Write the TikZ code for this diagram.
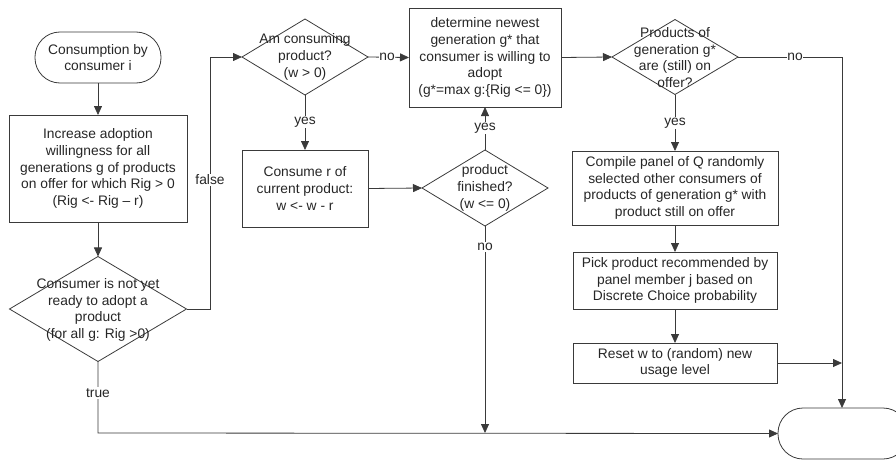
\documentclass[tikz,border=0pt]{standalone}
\usepackage{fontspec}
\setmainfont{Liberation Sans}
\usetikzlibrary{shapes.geometric,arrows.meta}
\definecolor{ln}{HTML}{3A3A3A}
\tikzset{
  every node/.style={font=\fontsize{13.8}{16.6}\selectfont, text=black!85},
  box/.style={draw=ln, line width=0.8pt, rectangle, inner sep=0pt, outer sep=0pt, align=center},
  term/.style={draw=ln, line width=0.8pt, rectangle, rounded corners=25pt, inner sep=0pt, outer sep=0pt, align=center},
  dia/.style={draw=ln, line width=0.8pt, diamond, inner sep=0pt, outer sep=0pt},
  dtext/.style={align=center, inner sep=0pt},
  conn/.style={draw=ln, line width=0.8pt},
  arr/.style={conn, -{Triangle[length=9pt,width=8pt]}},
  lbl/.style={fill=white, inner sep=1pt}
}
\begin{document}
\begin{tikzpicture}[x=1pt,y=-1pt]
\useasboundingbox (0,0) rectangle (896,460);

% nodes
\node[term, minimum width=126pt, minimum height=51pt] (start) at (98,57.5) {Consumption by\\consumer i};
\node[box, minimum width=178pt, minimum height=107pt] (b1) at (98,168.5) {Increase adoption\\willingness for all\\generations g of products\\on offer for which Rig > 0\\(Rig <- Rig – r)};
\node[dia, minimum width=177pt, minimum height=105pt] (d1) at (98,309) {};
\node[dtext] (d1t) at (98,310) {Consumer is not yet\\ready to adopt a\\product\\(for all g: Rig >0)};

\node[dia, minimum width=126pt, minimum height=76pt] (d2) at (305,57) {};
\node[dtext] (d2t) at (305,57) {Am consuming\\product?\\(w > 0)};
\node[box, minimum width=126pt, minimum height=77pt] (b2) at (305,188.5) {Consume r of\\current product:\\w <- w - r};

\node[box, minimum width=152pt, minimum height=99pt] (b3) at (485,57.5) {determine newest\\generation g* that\\consumer is willing to\\adopt\\(g*=max g:\{Rig <= 0\})};
\node[dia, minimum width=126pt, minimum height=76pt] (d3) at (485,188) {};
\node[dtext] (d3t) at (485,188) {product\\finished?\\(w <= 0)};

\node[dia, minimum width=126pt, minimum height=75pt] (d4) at (675,57) {};
\node[dtext] (d4t) at (675,57.5) {Products of\\generation g*\\are (still) on\\offer?};
\node[box, minimum width=206pt, minimum height=74pt] (b4) at (675,188) {Compile panel of Q randomly\\selected other consumers of\\products of generation g* with\\product still on offer};
\node[box, minimum width=204pt, minimum height=57pt] (b5) at (675,280.5) {Pick product recommended by\\panel member j based on\\Discrete Choice probability};
\node[box, minimum width=204pt, minimum height=40pt] (b6) at (675,363) {Reset w to (random) new\\usage level};

\node[term, minimum width=130pt, minimum height=51pt] (end) at (843,433.5) {};

\coordinate (fx1) at (210,309);
\coordinate (fx2) at (210,57);
\coordinate (tc) at (98,433);
\coordinate (nd3) at (485,433);
\coordinate (nx) at (842,57);
\coordinate (r6) at (842,363);

% connectors
\draw[arr] (start) -- (b1);
\draw[arr] (b1) -- (d1);
\draw[arr] (d1.east) -- (fx1) -- (fx2) -- (d2.west);
\node[lbl] (lfalse) at (210,180) {false};
\draw[arr] (d1.south) -- (tc) -- (end.west);
\node[lbl] (ltrue) at (98,393) {true};
\draw[arr] (d2.east) -- (b3.west);
\node[lbl, inner sep=0.5pt] (lno1) at (387,57) {no};
\draw[arr] (d2.south) -- (b2.north);
\node[lbl] (lyes1) at (305,122) {yes};
\draw[arr] (b2.east) -- (d3.west);
\draw[arr] (d3.north) -- (b3.south);
\node[lbl] (lyes2) at (485,128) {yes};
\draw[arr] (d3.south) -- (nd3);
\node[lbl] (lno2) at (485,247) {no};
\draw[arr] (b3.east) -- (d4.west);
\draw[arr] (d4.east) -- (nx) -- (end.north -| nx);
\node[lbl, inner sep=0.5pt] (lno3) at (795,57) {no};
\draw[arr] (d4.south) -- (b4.north);
\node[lbl] (lyes3) at (675,123) {yes};
\draw[arr] (b4) -- (b5);
\draw[arr] (b5) -- (b6);
\draw[arr] (b6.east) -- (r6);
\end{tikzpicture}
\end{document}
